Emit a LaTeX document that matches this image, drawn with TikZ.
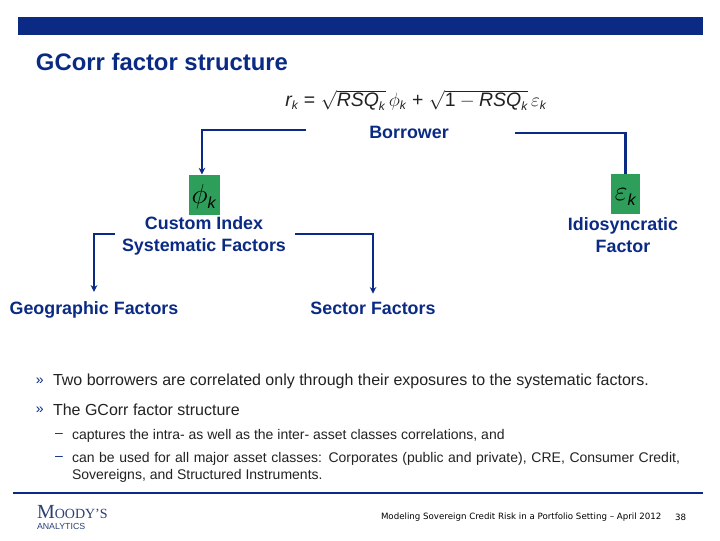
\documentclass[tikz,border=0pt]{standalone}
\usepackage{fontspec}
\setmainfont{Liberation Sans}
\newfontfamily\moodyfont{Liberation Serif}
\newfontfamily\wideface{DejaVu Sans}
\usetikzlibrary{arrows.meta}
\definecolor{navy}{HTML}{0A2A84}
\definecolor{boxgreen}{HTML}{2E9E5B}
\definecolor{bodyink}{HTML}{222222}
\definecolor{logoink}{HTML}{2A3F73}
\newcommand{\subk}[1]{_{\hbox{\fontsize{#1}{#1}\selectfont\itshape k}}}
\tikzset{
  x=0.75pt,y=-0.75pt,
  every node/.style={inner sep=0pt,outer sep=0pt},
  heading/.style={font=\fontsize{17.9pt}{20pt}\selectfont\bfseries,text=navy,anchor=west},
  label/.style={font=\fontsize{13.4pt}{16.5pt}\selectfont\bfseries,text=navy,align=center},
  bodytext/.style={font=\fontsize{12pt}{14pt}\selectfont,text=bodyink,anchor=west},
  subtext/.style={font=\fontsize{10.5pt}{12.75pt}\selectfont,text=bodyink,anchor=north west,align=justify},
  marker/.style={font=\fontsize{10.5pt}{12pt}\selectfont,text=navy,anchor=west},
  link/.style={draw=navy,line width=1.6pt},
  arrowlink/.style={link,-{Stealth[length=5pt,width=5pt]}},
  greenbox/.style={fill=boxgreen,minimum width=23pt,minimum height=30pt},
  footer/.style={font=\wideface\fontsize{6.5pt}{8pt}\selectfont,text=black,anchor=west},
}
\begin{document}
\begin{tikzpicture}
\useasboundingbox (0,0) rectangle (720,540);
\fill[navy] (18,17) rectangle (703,35);
\node[heading] (title) at (36,62) {GCorr factor structure};
\node[font=\fontsize{14.6pt}{16pt}\selectfont,text=bodyink] (formula) at (416,100.5)
  {\itshape r$\subk{9pt}$ \upshape{=} $\sqrt{\hbox{\itshape RSQ}\subk{9pt}}\,\phi\subk{9pt}$ + $\sqrt{\hbox{1}-\hbox{\itshape RSQ}\subk{9pt}}\,\varepsilon\subk{9pt}$};
\node[label] (borrower) at (409,132) {Borrower};
\node[greenbox] (phi) at (204.5,194.5) {};
\node[greenbox,minimum width=22pt] (eps) at (625.5,194) {};
\node (phisym) at (204,197) {\fontsize{20pt}{22pt}\selectfont$\phi\subk{12pt}$};
\node (epssym) at (625.5,197) {\fontsize{20pt}{22pt}\selectfont$\varepsilon\subk{12pt}$};
\node[label] (custom) at (204,236) {Custom Index\\Systematic Factors};
\node[label] (idio) at (623,235) {Idiosyncratic\\Factor};
\node[label] (geo) at (94,309.5) {Geographic Factors};
\node[label] (sector) at (373,308) {Sector Factors};
\coordinate (bl) at (306,130);
\coordinate (br) at (515,133);
\coordinate (cl) at (115,234);
\coordinate (cr) at (295,234);
\draw[arrowlink] (bl) -| ([xshift=-1.9pt]phi.north);
\draw[link] (br) -| (eps.north);
\draw[arrowlink,shorten >=7pt] (cl) -| (geo.north);
\draw[arrowlink,shorten >=6pt] (cr) -| (sector.north);
\node[marker] (m1) at (36,381) {»};
\node[bodytext] (b1) at (53,381) {Two borrowers are correlated only through their exposures to the systematic factors.};
\node[marker] (m2) at (36,410) {»};
\node[bodytext] (b2) at (53,410) {The GCorr factor structure};
\node[marker] (d1) at (55,435.5) {–};
\node[subtext,text width=456pt] (s1) at (72,429) {captures the intra- as well as the inter- asset classes correlations, and};
\node[marker] (d2) at (55,458.5) {–};
\node[subtext,text width=456pt] (s2) at (72,452) {can be used for all major asset classes: Corporates (public and private), CRE, Consumer Credit, Sovereigns, and Structured Instruments.};
\draw[navy,line width=1.5pt] (13,493) -- (703,493);
\node[font=\moodyfont\fontsize{15pt}{17pt}\selectfont,text=logoink,anchor=west] (logo) at (37,512) {M{\fontsize{10.5pt}{14pt}\selectfont OODY’S}};
\node[font=\fontsize{6.6pt}{8pt}\selectfont,text=logoink,anchor=west] (logob) at (37,526) {ANALYTICS};
\node[footer] (f1) at (381,517) {Modeling Sovereign Credit Risk in a Portfolio Setting – April 2012};
\node[footer] (f2) at (675,517) {38};
\end{tikzpicture}
\end{document}
